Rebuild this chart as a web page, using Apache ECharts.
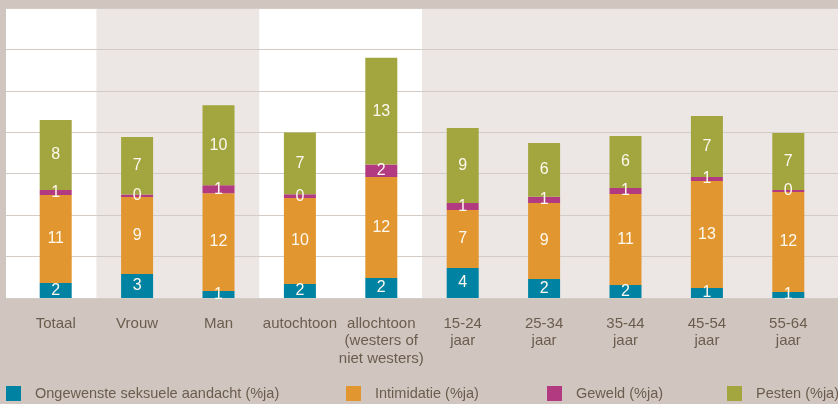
<!DOCTYPE html>
<html>
<head>
<meta charset="utf-8">
<script src="https://cdn.jsdelivr.net/npm/echarts@6/dist/echarts.min.js"></script>
<style>
html, body { margin: 0; padding: 0; background: #d0c6bf; }
#chart { width: 838px; height: 404px; }
</style>
</head>
<body>
<div id="chart"></div>
<script>
var categories = ['Totaal', 'Vrouw', 'Man', 'autochtoon', 'allochtoon\n(westers of\nniet westers)',
  '15-24\njaar', '25-34\njaar', '35-44\njaar', '45-54\njaar', '55-64\njaar'];

// percentages; labels show them rounded
var aandacht    = [1.81, 2.9, 0.85, 1.69, 2.41, 3.62, 2.29, 1.57, 1.21, 0.72];
var intimidatie = [10.62, 9.3, 11.8, 10.38, 12.19, 7.0, 9.17, 10.98, 12.9, 12.07];
var geweld      = [0.6, 0.28, 0.97, 0.45, 1.5, 0.84, 0.76, 0.72, 0.5, 0.24];
var pesten      = [8.45, 6.96, 9.65, 7.45, 12.9, 9.05, 6.48, 6.28, 7.36, 6.88];

var names = ['Ongewenste seksuele aandacht (%ja)', 'Intimidatie (%ja)', 'Geweld (%ja)', 'Pesten (%ja)'];
var colors = ['#0083a2', '#e2962f', '#b23a80', '#a3a53e'];
var legendLeft = [6, 346, 547, 727];

var txt = '#6b5c4e';
var font = 'Liberation Sans, Arial, sans-serif';

var chart = echarts.init(document.getElementById('chart'));

function mk(i, data) {
  return {
    name: names[i],
    type: 'bar',
    stack: 'a',
    barWidth: 32,
    xAxisIndex: 0,
    yAxisIndex: 0,
    data: data,
    itemStyle: { color: colors[i] },
    label: {
      show: true,
      position: 'inside',
      color: '#fdf9f0',
      fontSize: 16,
      fontFamily: font,
      formatter: function (p) { return Math.round(p.value); }
    }
  };
}

var legends = names.map(function (n, i) {
  return {
    data: [n],
    left: legendLeft[i],
    top: 386,
    padding: 0,
    itemWidth: 15,
    itemHeight: 15,
    icon: 'rect',
    selectedMode: false,
    textStyle: { color: txt, fontSize: 14.5, fontFamily: font, padding: [0, 0, 0, 9] }
  };
});

chart.setOption({
  backgroundColor: '#d0c6bf',
  animation: false,
  legend: legends,
  grid: [
    { left: 15, right: 9, top: 8, bottom: 106 },
    { left: 6, right: 0, top: 8, bottom: 106 }
  ],
  xAxis: [
    {
      type: 'category', gridIndex: 0, data: categories,
      axisLine: { show: false }, axisTick: { show: false },
      axisLabel: { interval: 0, color: txt, fontSize: 15, fontFamily: font, lineHeight: 17.5, margin: 17 }
    },
    { type: 'category', gridIndex: 1, data: ['a'], show: false }
  ],
  yAxis: [
    { type: 'value', gridIndex: 0, min: 0, max: 35, interval: 5, show: false },
    {
      type: 'value', gridIndex: 1, min: 0, max: 35, interval: 5,
      axisLine: { show: false }, axisTick: { show: false }, axisLabel: { show: false },
      splitLine: { lineStyle: { color: '#d3cbc5', width: 1 } }
    }
  ],
  series: [mk(0, aandacht), mk(1, intimidatie), mk(2, geweld), mk(3, pesten)]
});

// column shading behind the plot, placed from the category axis
var c1 = chart.convertToPixel({ xAxisIndex: 0 }, categories[1]);
var c2 = chart.convertToPixel({ xAxisIndex: 0 }, categories[2]);
var c5 = chart.convertToPixel({ xAxisIndex: 0 }, categories[5]);
var bw = c2 - c1;
var yTop = chart.convertToPixel({ yAxisIndex: 0 }, 35);
var yBot = chart.convertToPixel({ yAxisIndex: 0 }, 0);
var h = yBot - yTop;
chart.setOption({
  graphic: [
    { type: 'rect', z: -10, shape: { x: 6, y: yTop, width: 832, height: h }, style: { fill: '#ffffff' } },
    { type: 'rect', z: -9, shape: { x: c1 - bw / 2, y: yTop, width: 2 * bw, height: h }, style: { fill: '#ece7e4' } },
    { type: 'rect', z: -9, shape: { x: c5 - bw / 2, y: yTop, width: 838 - (c5 - bw / 2), height: h }, style: { fill: '#ece7e4' } }
  ]
});
</script>
</body>
</html>
